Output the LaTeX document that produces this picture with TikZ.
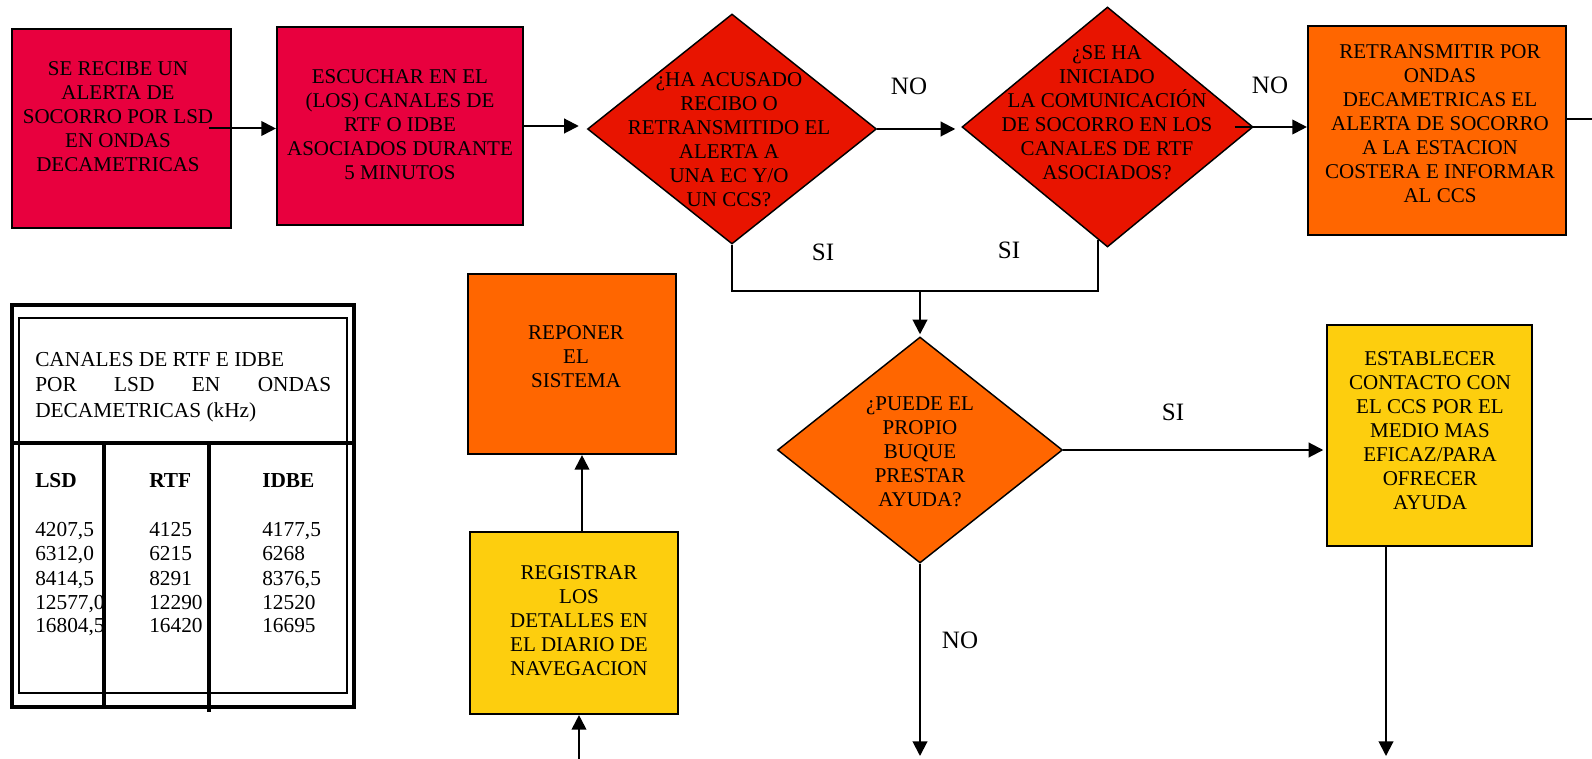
\documentclass[tikz,border=0pt]{standalone}
\usepackage{fontspec}
\setmainfont{Liberation Serif}
\usetikzlibrary{shapes.geometric,arrows.meta,calc}
\definecolor{crim}{RGB}{232,0,62}
\definecolor{redd}{RGB}{232,20,0}
\definecolor{orng}{RGB}{255,102,0}
\definecolor{yell}{RGB}{253,206,14}
\begin{document}
\begin{tikzpicture}[x=0.75pt,y=-0.75pt,
 box/.style={draw, line width=1.6pt, inner sep=0pt, rectangle},
 dia/.style={diamond, draw, line width=1.1pt, inner sep=0pt},
 txt/.style={align=center, inner sep=0pt, font=\fontsize{15.75}{18}\selectfont},
 lbl/.style={inner sep=0pt, font=\fontsize{18.75}{22}\selectfont},
 conn/.style={line width=1.5pt},
 arr/.style={conn, -{Triangle[length=11pt,width=11pt]}},
 tab/.style={inner sep=0pt, anchor=base west, font=\fontsize{16}{18}\selectfont},
 tline/.style={line width=2.6pt}]

\useasboundingbox (0,0) rectangle (1592,759);

% boxes and diamonds
\node[box, fill=crim, minimum width=164.25pt, minimum height=149.25pt] (b1) at (121.5,128.5) {};
\node[txt] (t1) at (118,117) {SE RECIBE UN\\ALERTA DE\\SOCORRO POR LSD\\EN ONDAS\\DECAMETRICAS};

\node[box, fill=crim, minimum width=184.5pt, minimum height=148.5pt] (b2) at (400,126) {};
\node[txt] (t2) at (400,125) {ESCUCHAR EN EL\\(LOS) CANALES DE\\RTF O IDBE\\ASOCIADOS DURANTE\\5 MINUTOS};

\node[dia, fill=redd, minimum width=216.75pt, minimum height=172.5pt] (d1) at (732,129) {};
\node[txt] (t3) at (729,140) {¿HA ACUSADO\\RECIBO O\\RETRANSMITIDO EL\\ALERTA A\\UNA EC Y/O\\UN CCS?};

\node[dia, fill=redd, minimum width=218.25pt, minimum height=180pt] (d2) at (1107.5,127) {};
\node[txt] (t4) at (1107,113) {¿SE HA\\INICIADO\\LA COMUNICACIÓN\\DE SOCORRO EN LOS\\CANALES DE RTF\\ASOCIADOS?};

\node[box, fill=orng, minimum width=193.5pt, minimum height=156.75pt] (b3) at (1437,130.5) {};
\node[txt] (t5) at (1440,124) {RETRANSMITIR POR\\ONDAS\\DECAMETRICAS EL\\ALERTA DE SOCORRO\\A LA ESTACION\\COSTERA E INFORMAR\\AL CCS};

\node[box, fill=orng, minimum width=156pt, minimum height=135pt] (b4) at (572,364) {};
\node[txt] (t6) at (576,357) {REPONER\\EL\\SISTEMA};

\node[box, fill=yell, minimum width=156pt, minimum height=136.5pt] (b5) at (574,623) {};
\node[txt] (t7) at (579,621) {REGISTRAR\\LOS\\DETALLES EN\\EL DIARIO DE\\NAVEGACION};

\node[dia, fill=orng, minimum width=213.75pt, minimum height=169.5pt] (d3) at (920,450) {};
\node[txt] (t8) at (920,452) {¿PUEDE EL\\PROPIO\\BUQUE\\PRESTAR\\AYUDA?};

\node[box, fill=yell, minimum width=153.75pt, minimum height=165.75pt] (b6) at (1429.5,435.5) {};
\node[txt] (t9) at (1430,431) {ESTABLECER\\CONTACTO CON\\EL CCS POR EL\\MEDIO MAS\\EFICAZ/PARA\\OFRECER\\AYUDA};

% connectors
\draw[arr] ($(b1.east)+(-23,0)$) -- (b1.east -| b2.west);
\draw[arr, shorten >=6pt] (b2.east) -- (b2.east -| d1.west);
\draw[arr, shorten >=4.5pt] (d1.east) -- (d1.east -| d2.west);
\draw[arr] ($(d2.east)+(-19,0)$) -- (d2.east -| b3.west);
\coordinate (out3) at (1592,119);
\draw[conn] (b3.east |- out3) -- (out3);

\coordinate (m) at (920,291);
\draw[conn] (d1.south) |- (m) -| ($(d2.south)+(-10,-8)$);
\draw[arr, shorten >=1.5pt] (m) -- (d3.north);
\draw[arr, shorten >=2pt] (d3.east) -- (d3.east -| b6.west);
\coordinate (e1) at (920,756);
\draw[arr] (d3.south) -- (d3.south |- e1);
\coordinate (e2) at (1386,756);
\draw[arr] (b6.south -| e2) -- (e2);
\coordinate (up) at (582,623);
\draw[arr] (up |- b5.north) -- (up |- b4.south);
\coordinate (s0) at (579,759);
\draw[arr] (s0) -- (s0 |- b5.south);

% labels
\node[lbl] (no1) at (909,86) {NO};
\node[lbl] (no2) at (1270,85) {NO};
\node[lbl] (si1) at (823,252) {SI};
\node[lbl] (si2) at (1009,250) {SI};
\node[lbl] (si3) at (1173,412) {SI};
\node[lbl] (no3) at (960,640) {NO};

% table
\node[tab] (h1) at (35,366) {CANALES DE RTF E IDBE};
\node[tab] (h2) at (35,391) {\hbox to 222pt{POR\hfill LSD\hfill EN\hfill ONDAS}};
\node[tab] (h3) at (35,417) {DECAMETRICAS (kHz)};

\node[tab] (c1) at (35,487) {\bfseries LSD};
\node[tab] (c2) at (149,487) {\bfseries RTF};
\node[tab] (c3) at (262,487) {\bfseries IDBE};

\begin{scope}
\clip (19,443) rectangle (103,700);
\node[tab] (l1) at (35,536) {4207,5};
\node[tab] (l2) at (35,560) {6312,0};
\node[tab] (l3) at (35,585) {8414,5};
\node[tab] (l4) at (35,609) {12577,0};
\node[tab] (l5) at (35,632) {16804,5};
\end{scope}
\node[tab] (r1) at (149,536) {4125};
\node[tab] (r2) at (149,560) {6215};
\node[tab] (r3) at (149,585) {8291};
\node[tab] (r4) at (149,609) {12290};
\node[tab] (r5) at (149,632) {16420};
\node[tab] (i1) at (262,536) {4177,5};
\node[tab] (i2) at (262,560) {6268};
\node[tab] (i3) at (262,585) {8376,5};
\node[tab] (i4) at (262,609) {12520};
\node[tab] (i5) at (262,632) {16695};

\draw[tline] (12,305) rectangle (354,707);
\draw[line width=1.5pt] (19,318) rectangle (347,693);
\draw[tline] (12,443) -- (354,443);
\draw[tline] (104,443) -- (104,707);
\draw[tline] (209,443) -- (209,712);
\end{tikzpicture}
\end{document}
